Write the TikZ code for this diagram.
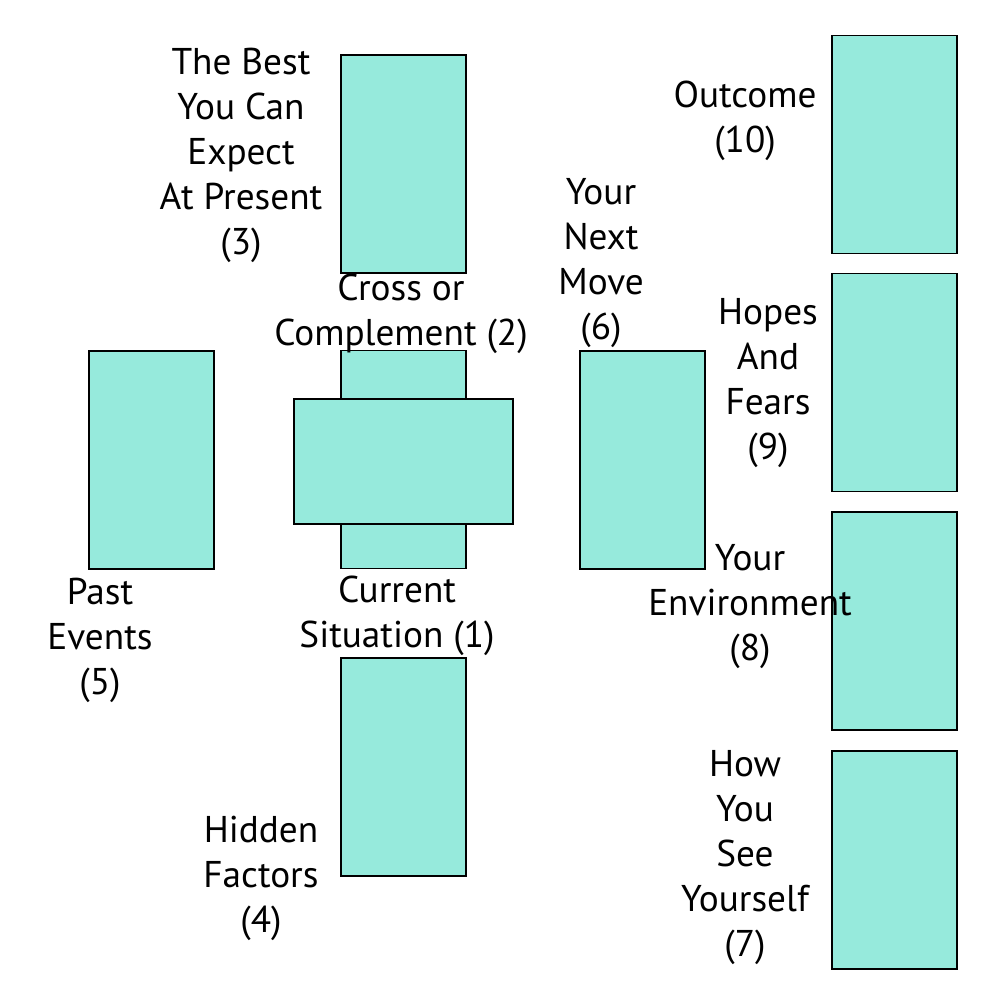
\documentclass[tikz,border=0pt]{standalone}
\usepackage{fontspec}
\setmainfont{PT Sans}
\usetikzlibrary{positioning}
\definecolor{cardteal}{RGB}{64,217,192}

\begin{document}
\begin{tikzpicture}[
  font=\fontsize{10.6}{12.8}\selectfont,
  card/.style={draw, line width=0.5pt, fill=cardteal!55, minimum width=1.25cm, minimum height=2.18cm, inner sep=0pt},
  crosscard/.style={card, minimum width=2.19cm, minimum height=1.25cm},
  lbl/.style={align=center, inner sep=0pt}
]
\useasboundingbox (0,0) rectangle (10,-10);
% center cross
\node[card] (card1) at (4.035,-4.595) {};
\node[crosscard] (card2) at (4.035,-4.615) {};
\node[card] (card3) at (4.035,-1.64) {};
\node[card] (card4) at (4.035,-7.67) {};
\node[card] (card5) at (1.515,-4.60) {};
\node[card] (card6) at (6.425,-4.60) {};
% staff
\node[card] (card10) at (8.945,-1.445) {};
\node[card] (card9) at (8.945,-3.825) {};
\node[card] (card8) at (8.945,-6.21) {};
\node[card] (card7) at (8.945,-8.60) {};

\node[lbl] (lab3) at (2.41,-1.55) {The Best\\You Can\\Expect\\At Present\\(3)};
\node[lbl] (lab2) at (4.01,-3.135) {Cross or\\Complement (2)};
\node[lbl] (lab6) at (6.01,-2.635) {Your\\Next\\Move\\(6)};
\node[lbl] (lab10) at (7.45,-1.205) {Outcome\\(10)};
\node[lbl] (lab9) at (7.68,-3.835) {Hopes\\And\\Fears\\(9)};
\node[lbl] (lab5) at (1.00,-6.40) {Past\\Events\\(5)};
\node[lbl] (lab1) at (3.97,-6.155) {Current\\Situation (1)};
\node[lbl] (lab8) at (7.50,-6.07) {Your\\Environment\\(8)};
\node[lbl] (lab4) at (2.61,-8.78) {Hidden\\Factors\\(4)};
\node[lbl] (lab7) at (7.45,-8.58) {How\\You\\See\\Yourself\\(7)};
\end{tikzpicture}
\end{document}
